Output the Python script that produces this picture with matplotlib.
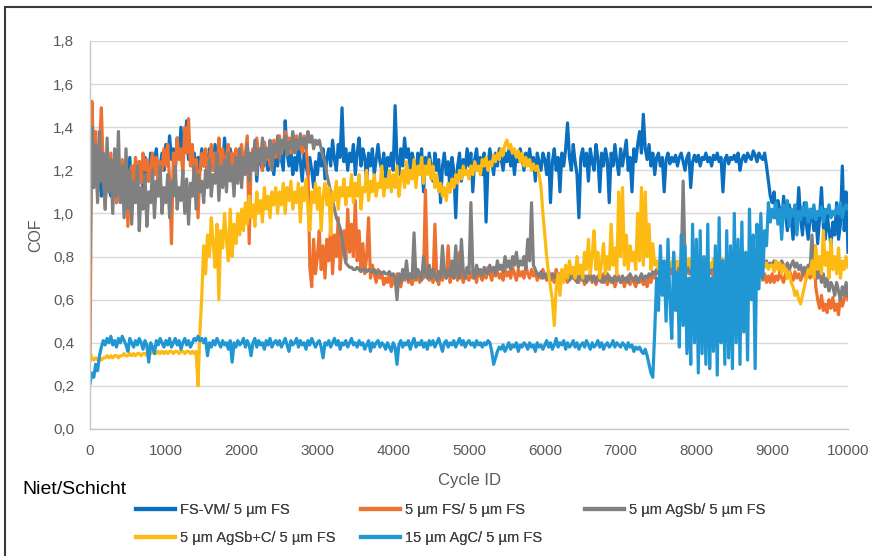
import matplotlib
matplotlib.use("Agg")
import matplotlib.pyplot as plt
from matplotlib.patches import Rectangle

# Friction coefficient per rivet/coating pairing, sampled every 25 cycles
cycles = list(range(0, 10001, 25))

cof_fsvm = [
    1.18, 1.28, 1.15, 1.22, 1.10, 1.25, 1.08, 1.18, 1.05, 1.20, 1.12, 1.08, 1.22, 1.15, 1.05, 1.18, 1.12, 1.24, 1.10, 1.20,
    1.14, 1.26, 1.12, 1.22, 1.16, 1.10, 1.24, 1.18, 1.12, 1.26, 1.20, 1.15, 1.28, 1.18, 1.24, 1.30, 1.16, 1.22, 1.28, 1.20,
    1.32, 1.22, 1.36, 1.25, 1.30, 1.20, 1.35, 1.26, 1.40, 1.28, 1.32, 1.43, 1.25, 1.30, 1.22, 1.28, 1.18, 1.26, 1.20, 1.30,
    1.22, 1.28, 1.15, 1.30, 1.24, 1.20, 1.32, 1.25, 1.18, 1.28, 1.22, 1.35, 1.25, 1.20, 1.30, 1.24, 1.18, 1.28, 1.22, 1.30,
    1.20, 1.28, 1.24, 1.32, 1.18, 1.26, 1.22, 1.30, 1.15, 1.28, 1.24, 1.20, 1.33, 1.26, 1.20, 1.30, 1.24, 1.18, 1.28, 1.22,
    1.30, 1.25, 1.20, 1.43, 1.28, 1.22, 1.30, 1.18, 1.26, 1.20, 1.32, 1.24, 1.15, 1.28, 1.22, 1.18, 1.26, 1.20, 1.12, 1.24,
    1.18, 1.28, 1.22, 1.30, 1.16, 1.26, 1.30, 1.22, 1.34, 1.25, 1.20, 1.32, 1.26, 1.49, 1.24, 1.30, 1.20, 1.28, 1.24, 1.32,
    1.18, 1.28, 1.35, 1.22, 1.30, 1.26, 1.15, 1.28, 1.22, 1.30, 1.18, 1.25, 1.32, 1.24, 1.20, 1.28, 1.16, 1.26, 1.22, 1.28,
    1.20, 1.50, 1.25, 1.18, 1.30, 1.22, 1.35, 1.26, 1.30, 1.20, 1.28, 1.24, 1.16, 1.28, 1.22, 1.30, 1.10, 1.26, 1.20, 1.28,
    1.22, 1.15, 1.28, 1.20, 1.25, 1.05, 1.22, 1.28, 1.18, 1.24, 1.10, 1.26, 1.20, 0.98, 1.22, 1.28, 1.15, 1.25, 1.20, 1.30,
    1.22, 1.28, 1.10, 1.25, 1.30, 1.20, 1.26, 1.18, 1.28, 0.96, 1.22, 1.30, 1.24, 1.18, 1.28, 1.22, 1.30, 1.25, 1.20, 1.28,
    1.24, 1.30, 1.22, 1.27, 1.18, 1.28, 1.24, 1.30, 1.26, 1.20, 1.28, 1.24, 1.30, 1.22, 1.26, 1.15, 1.28, 1.24, 1.20, 1.28,
    1.25, 1.18, 1.28, 1.05, 1.24, 1.30, 1.20, 1.26, 1.10, 1.28, 1.22, 1.30, 1.42, 1.26, 1.20, 1.32, 1.24, 1.18, 0.98, 1.26,
    1.30, 1.22, 1.28, 1.15, 1.30, 1.24, 1.20, 1.32, 1.26, 1.10, 1.28, 1.22, 1.30, 1.25, 1.05, 1.28, 1.22, 1.32, 1.24, 1.18,
    1.30, 1.22, 1.28, 1.34, 1.20, 1.26, 1.10, 1.30, 1.24, 1.32, 1.38, 1.28, 1.46, 1.30, 1.25, 1.32, 1.22, 1.28, 1.18, 1.26,
    1.28, 1.22, 1.26, 1.10, 1.25, 1.28, 1.23, 1.26, 1.24, 1.27, 1.22, 1.26, 1.28, 1.24, 1.20, 1.26, 1.28, 1.12, 1.24, 1.27,
    1.24, 1.27, 1.22, 1.26, 1.25, 1.28, 1.24, 1.26, 1.22, 1.27, 1.25, 1.28, 1.24, 1.26, 1.10, 1.25, 1.27, 1.23, 1.26, 1.25,
    1.27, 1.24, 1.28, 1.20, 1.25, 1.27, 1.24, 1.28, 1.26, 1.25, 1.29, 1.27, 1.24, 1.28, 1.26, 1.25, 1.28, 1.22, 1.15, 1.08,
    1.05, 1.10, 0.98, 1.06, 1.02, 0.95, 1.08, 1.00, 0.92, 1.04, 0.98, 0.88, 1.02, 0.95, 1.12, 0.98, 0.90, 1.05, 0.95, 0.88,
    0.98, 1.02, 0.92, 1.00, 0.86, 0.98, 1.12, 0.94, 0.88, 1.00, 0.92, 0.85, 0.96, 0.90, 1.05, 0.88, 0.95, 1.22, 0.92, 1.10,
    0.82,
]

cof_fs = [
    0.32, 1.52, 1.25, 1.38, 1.15, 1.30, 1.49, 1.20, 1.02, 1.25, 1.15, 1.28, 1.10, 1.22, 1.05, 1.18, 1.12, 1.25, 1.08, 1.20,
    0.94, 1.18, 1.22, 1.12, 1.26, 1.18, 1.24, 1.14, 1.28, 1.20, 1.25, 1.15, 1.22, 1.28, 1.18, 1.26, 1.12, 1.24, 1.20, 1.30,
    1.22, 1.32, 1.15, 0.86, 1.28, 1.20, 1.35, 1.25, 1.30, 1.18, 1.40, 1.28, 1.44, 1.22, 1.32, 1.15, 1.25, 0.98, 1.20, 1.28,
    1.22, 1.30, 1.18, 1.25, 1.32, 1.20, 1.28, 1.15, 1.35, 1.22, 1.30, 1.18, 1.26, 1.32, 1.20, 1.28, 1.15, 1.30, 1.22, 1.26,
    1.32, 1.20, 1.28, 1.36, 0.86, 1.25, 1.30, 1.22, 1.35, 1.26, 1.30, 1.20, 1.33, 1.25, 1.30, 1.22, 1.28, 1.34, 1.26, 1.30,
    1.36, 1.28, 1.32, 1.38, 1.30, 1.35, 1.28, 1.37, 1.32, 1.36, 1.30, 1.34, 1.28, 1.36, 1.30, 1.22, 0.75, 0.66, 0.88, 0.72,
    0.80, 0.92, 0.74, 0.85, 0.70, 0.88, 0.78, 0.95, 0.72, 0.90, 0.80, 0.98, 0.74, 0.86, 0.92, 0.78, 1.02, 0.82, 0.95, 0.80,
    1.06, 0.78, 0.92, 0.74, 0.86, 0.72, 0.80, 0.98, 0.70, 0.76, 0.72, 0.68, 0.74, 0.70, 0.72, 0.67, 0.70, 0.68, 0.72, 0.66,
    0.70, 0.67, 0.72, 0.68, 0.66, 0.71, 0.69, 0.73, 0.68, 0.70, 0.67, 0.72, 0.69, 0.71, 0.68, 0.72, 0.70, 1.11, 0.74, 0.69,
    0.72, 0.68, 0.95, 0.70, 0.67, 0.72, 0.69, 0.74, 0.70, 0.85, 0.68, 0.72, 0.70, 0.73, 0.69, 0.82, 0.71, 0.68, 0.72, 0.70,
    0.69, 0.73, 0.70, 0.72, 0.68, 0.74, 0.71, 0.69, 0.73, 0.70, 0.75, 0.72, 0.69, 0.74, 0.71, 0.73, 0.70, 0.72, 0.69, 0.74,
    0.71, 0.73, 0.70, 0.75, 0.72, 0.69, 0.74, 0.71, 0.73, 0.70, 0.76, 0.72, 0.70, 0.74, 0.71, 0.73, 0.69, 0.72, 0.70, 0.74,
    0.71, 0.69, 0.73, 0.70, 0.72, 0.68, 0.74, 0.70, 0.72, 0.69, 0.73, 0.70, 0.68, 0.72, 0.70, 0.73, 0.69, 0.71, 0.68, 0.72,
    0.70, 0.67, 0.71, 0.69, 0.72, 0.68, 0.70, 0.67, 0.71, 0.69, 0.68, 0.72, 0.70, 0.67, 0.71, 0.68, 0.70, 0.66, 0.69, 0.71,
    0.68, 0.70, 0.66, 0.69, 0.71, 0.67, 0.70, 0.68, 0.66, 0.70, 0.68, 0.71, 0.67, 0.69, 0.66, 0.70, 0.68, 0.72, 0.70, 0.74,
    0.72, 0.75, 0.71, 0.74, 0.70, 0.73, 0.76, 0.72, 0.74, 0.70, 0.75, 0.72, 0.74, 0.71, 0.73, 0.76, 0.72, 0.74, 0.71, 0.75,
    0.73, 0.70, 0.74, 0.72, 0.76, 0.71, 0.74, 0.72, 0.75, 0.70, 0.73, 0.76, 0.72, 0.74, 0.71, 0.75, 0.73, 0.70, 0.74, 0.72,
    0.75, 0.71, 0.74, 0.72, 0.76, 0.73, 0.70, 0.74, 0.72, 0.75, 0.71, 0.73, 0.70, 0.74, 0.72, 0.69, 0.72, 0.68, 0.71, 0.68,
    0.72, 0.68, 0.71, 0.69, 0.73, 0.70, 0.68, 0.72, 0.70, 0.74, 0.71, 0.69, 0.73, 0.70, 0.72, 0.69, 0.71, 0.73, 0.70, 0.72,
    0.70, 0.74, 0.85, 0.66, 0.60, 0.56, 0.62, 0.55, 0.58, 0.54, 0.60, 0.56, 0.61, 0.55, 0.58, 0.53, 0.62, 0.57, 0.60, 0.64,
    0.60,
]

cof_agsb = [
    0.77, 1.40, 1.12, 1.32, 1.05, 1.38, 1.15, 1.28, 1.02, 1.35, 1.10, 1.25, 1.00, 1.30, 1.08, 1.38, 1.05, 1.22, 0.98, 1.30,
    1.02, 1.20, 0.95, 1.15, 1.05, 1.22, 0.92, 1.12, 1.02, 1.18, 0.94, 1.10, 1.05, 1.20, 0.98, 1.15, 1.08, 1.22, 1.00, 1.12,
    1.05, 1.18, 0.98, 1.15, 1.08, 1.22, 1.02, 1.12, 1.06, 1.20, 1.00, 1.16, 0.95, 1.14, 1.08, 1.22, 1.02, 1.18, 1.10, 1.15,
    1.05, 1.20, 1.12, 1.25, 1.08, 1.18, 1.14, 1.28, 1.06, 1.22, 1.12, 1.25, 1.10, 1.28, 1.15, 1.22, 1.08, 1.26, 1.14, 1.30,
    1.12, 1.26, 1.18, 1.32, 1.15, 1.28, 1.20, 1.34, 1.18, 1.30, 1.24, 1.35, 1.22, 1.30, 1.26, 1.34, 1.20, 1.32, 1.28, 1.36,
    1.25, 1.34, 1.30, 1.36, 1.27, 1.33, 1.30, 1.38, 1.28, 1.34, 1.30, 1.37, 1.32, 1.35, 1.30, 1.38, 1.33, 1.36, 1.30, 1.34,
    1.32, 1.34, 1.30, 1.26, 1.24, 1.18, 1.14, 1.10, 1.06, 1.02, 0.98, 0.96, 0.93, 0.88, 0.82, 0.77, 0.76, 0.75, 0.75, 0.74,
    0.74, 0.75, 0.74, 0.73, 0.74, 0.74, 0.73, 0.74, 0.73, 0.73, 0.74, 0.72, 0.73, 0.73, 0.72, 0.73, 0.72, 0.72, 0.73, 0.71,
    0.72, 0.70, 0.60, 0.72, 0.68, 0.74, 0.70, 0.78, 0.69, 0.72, 0.70, 0.91, 0.70, 0.74, 0.72, 0.69, 0.80, 0.72, 0.70, 0.76,
    0.70, 0.74, 0.71, 0.69, 0.73, 0.70, 0.85, 0.72, 0.70, 0.74, 0.71, 0.78, 0.70, 0.85, 0.72, 0.70, 0.88, 0.73, 0.70, 0.75,
    0.72, 1.05, 0.74, 0.70, 0.76, 0.72, 0.74, 0.71, 0.75, 0.73, 0.72, 0.76, 0.73, 0.75, 0.72, 0.78, 0.74, 0.76, 0.73, 0.80,
    0.75, 0.78, 0.74, 0.80, 0.76, 0.82, 0.75, 0.78, 0.76, 0.80, 0.74, 0.88, 0.78, 1.05, 0.76, 0.74, 0.72, 0.71, 0.73, 0.70,
    0.72, 0.70, 0.73, 0.69, 0.72, 0.71, 0.70, 0.72, 0.69, 0.71, 0.73, 0.70, 0.72, 0.69, 0.71, 0.70, 0.72, 0.68, 0.71, 0.70,
    0.69, 0.71, 0.68, 0.70, 0.72, 0.69, 0.71, 0.68, 0.70, 0.69, 0.71, 0.68, 0.70, 0.72, 0.69, 0.70, 0.68, 0.71, 0.69, 0.70,
    0.68, 0.71, 0.69, 0.70, 0.68, 0.72, 0.70, 0.69, 0.71, 0.68, 0.70, 0.72, 0.69, 0.71, 0.70, 0.72, 0.71, 0.73, 0.72, 0.74,
    0.72, 0.74, 0.71, 0.73, 0.75, 0.72, 0.74, 0.76, 0.73, 0.75, 0.72, 0.74, 0.76, 1.15, 0.78, 0.73, 0.75, 0.72, 0.74, 0.76,
    0.73, 0.75, 0.72, 0.76, 0.74, 0.73, 0.75, 0.72, 0.76, 0.74, 0.73, 0.75, 0.77, 0.74, 0.76, 0.73, 0.75, 0.74, 0.76, 0.73,
    0.75, 0.77, 0.74, 0.76, 0.73, 0.75, 0.78, 0.74, 0.76, 0.75, 0.77, 0.74, 0.76, 0.78, 0.75, 0.77, 0.76, 0.78, 0.75, 0.77,
    0.76, 0.78, 0.75, 0.77, 0.74, 0.78, 0.76, 0.75, 0.77, 0.74, 0.76, 0.78, 0.75, 0.77, 0.74, 0.76, 0.72, 0.75, 0.73, 0.76,
    0.74, 0.90, 0.72, 0.76, 0.70, 0.74, 0.68, 0.72, 0.66, 0.70, 0.64, 0.68, 0.66, 0.62, 0.68, 0.64, 0.60, 0.66, 0.62, 0.68,
    0.62,
]

cof_agsbc = [
    0.36, 0.33, 0.32, 0.33, 0.32, 0.33, 0.32, 0.33, 0.33, 0.34, 0.33, 0.34, 0.33, 0.34, 0.34, 0.33, 0.34, 0.34, 0.35, 0.34,
    0.34, 0.35, 0.34, 0.35, 0.34, 0.35, 0.35, 0.34, 0.35, 0.35, 0.34, 0.35, 0.35, 0.36, 0.35, 0.35, 0.36, 0.35, 0.36, 0.35,
    0.36, 0.35, 0.36, 0.36, 0.35, 0.36, 0.36, 0.35, 0.36, 0.36, 0.35, 0.36, 0.36, 0.35, 0.36, 0.35, 0.36, 0.20, 0.45, 0.62,
    0.85, 0.72, 0.90, 0.80, 0.98, 0.86, 0.75, 0.95, 0.60, 0.92, 0.84, 1.00, 0.88, 0.78, 1.02, 0.80, 0.95, 0.86, 1.00, 0.90,
    1.02, 0.92, 1.05, 0.95, 1.08, 0.98, 1.04, 0.94, 1.10, 1.00, 1.06, 0.96, 1.12, 1.02, 1.08, 0.98, 1.10, 1.04, 1.12, 1.00,
    1.10, 1.04, 1.14, 1.00, 1.12, 1.06, 1.15, 1.02, 1.10, 1.05, 1.14, 0.96, 1.12, 1.06, 1.16, 1.02, 0.92, 1.10, 1.05, 1.14,
    1.02, 1.12, 0.92, 1.08, 1.14, 1.04, 1.12, 0.90, 1.10, 1.06, 1.15, 1.02, 1.12, 1.08, 1.16, 1.04, 1.12, 1.08, 1.18, 1.05,
    1.14, 1.08, 1.18, 1.02, 1.12, 1.10, 1.20, 1.06, 1.15, 1.10, 1.18, 1.08, 1.14, 1.12, 1.22, 1.08, 1.16, 1.12, 1.20, 1.10,
    1.18, 1.12, 1.22, 1.08, 1.16, 1.20, 1.12, 1.24, 1.14, 1.20, 1.16, 1.25, 1.12, 1.22, 1.18, 1.26, 1.14, 1.22, 1.18, 1.25,
    1.16, 1.22, 1.12, 1.18, 1.10, 1.14, 1.08, 1.12, 1.06, 1.14, 1.10, 1.16, 1.12, 1.18, 1.14, 1.20, 1.16, 1.22, 1.18, 1.20,
    1.16, 1.22, 1.18, 1.24, 1.20, 1.22, 1.18, 1.25, 1.22, 1.26, 1.20, 1.24, 1.22, 1.27, 1.24, 1.28, 1.25, 1.30, 1.27, 1.32,
    1.34, 1.30, 1.32, 1.28, 1.30, 1.26, 1.29, 1.24, 1.28, 1.22, 1.26, 1.22, 1.25, 1.20, 1.23, 1.20, 1.22, 1.18, 1.12, 1.00,
    0.90, 0.80, 0.72, 0.66, 0.60, 0.48, 0.65, 0.72, 0.62, 0.74, 0.68, 0.76, 0.70, 0.78, 0.72, 0.75, 0.70, 0.80, 0.72, 0.76,
    0.70, 0.82, 0.74, 0.88, 0.72, 0.80, 0.92, 0.74, 0.82, 0.70, 0.78, 0.86, 0.72, 0.80, 0.74, 0.95, 0.76, 0.84, 0.72, 1.10,
    0.80, 1.12, 0.76, 0.90, 0.74, 0.85, 0.78, 0.82, 0.74, 1.00, 0.78, 1.12, 0.76, 1.10, 0.80, 0.95, 0.74, 0.86, 0.76, 0.78,
    0.74, 0.78, 0.76, 0.77, 0.74, 0.78, 0.75, 0.77, 0.79, 0.74, 0.78, 0.76, 0.77, 0.74, 0.78, 0.76, 0.79, 0.75, 0.77, 0.74,
    0.78, 0.75, 0.77, 0.79, 0.74, 0.78, 0.76, 0.77, 0.75, 0.79, 0.76, 0.78, 0.74, 0.77, 0.79, 0.75, 0.78, 0.76, 0.77, 0.75,
    0.78, 0.76, 0.79, 0.75, 0.77, 0.78, 0.74, 0.77, 0.79, 0.76, 0.78, 0.75, 0.77, 0.79, 0.76, 0.78, 0.75, 0.77, 0.74, 0.76,
    0.76, 0.73, 0.78, 0.74, 0.77, 0.72, 0.76, 0.74, 0.70, 0.73, 0.68, 0.66, 0.62, 0.64, 0.60, 0.58, 0.62, 0.66, 0.70, 0.74,
    0.72, 0.78, 0.70, 0.85, 0.74, 0.80, 0.72, 0.92, 0.76, 0.82, 0.70, 0.88, 0.74, 0.80, 0.72, 0.84, 0.70, 0.78, 0.74, 0.80,
    0.75,
]

cof_agc = [
    0.21, 0.26, 0.24, 0.30, 0.27, 0.34, 0.38, 0.41, 0.39, 0.42, 0.40, 0.43, 0.39, 0.41, 0.38, 0.42, 0.40, 0.43, 0.41, 0.39,
    0.36, 0.42, 0.40, 0.38, 0.41, 0.39, 0.42, 0.40, 0.37, 0.41, 0.39, 0.31, 0.40, 0.38, 0.35, 0.41, 0.39, 0.42, 0.40, 0.38,
    0.41, 0.39, 0.42, 0.38, 0.40, 0.42, 0.39, 0.41, 0.37, 0.40, 0.42, 0.39, 0.41, 0.38, 0.40, 0.42, 0.41, 0.43, 0.41, 0.42,
    0.40, 0.42, 0.34, 0.40, 0.38, 0.41, 0.39, 0.42, 0.40, 0.38, 0.41, 0.39, 0.40, 0.37, 0.41, 0.31, 0.40, 0.38, 0.41, 0.39,
    0.40, 0.42, 0.38, 0.41, 0.39, 0.34, 0.40, 0.42, 0.38, 0.41, 0.39, 0.40, 0.37, 0.41, 0.39, 0.42, 0.38, 0.40, 0.41, 0.39,
    0.41, 0.38, 0.40, 0.42, 0.39, 0.36, 0.41, 0.39, 0.40, 0.42, 0.38, 0.41, 0.39, 0.40, 0.37, 0.41, 0.39, 0.42, 0.40, 0.38,
    0.40, 0.41, 0.38, 0.33, 0.40, 0.39, 0.41, 0.38, 0.40, 0.42, 0.39, 0.41, 0.37, 0.40, 0.39, 0.41, 0.38, 0.40, 0.42, 0.39,
    0.40, 0.38, 0.41, 0.39, 0.40, 0.37, 0.39, 0.41, 0.36, 0.40, 0.38, 0.40, 0.41, 0.38, 0.40, 0.39, 0.37, 0.40, 0.38, 0.36,
    0.40, 0.38, 0.30, 0.39, 0.41, 0.38, 0.40, 0.39, 0.41, 0.37, 0.40, 0.42, 0.38, 0.40, 0.39, 0.41, 0.38, 0.40, 0.37, 0.41,
    0.39, 0.41, 0.38, 0.40, 0.42, 0.39, 0.36, 0.40, 0.41, 0.38, 0.40, 0.39, 0.41, 0.38, 0.40, 0.42, 0.39, 0.41, 0.38, 0.40,
    0.41, 0.39, 0.40, 0.38, 0.41, 0.39, 0.40, 0.38, 0.40, 0.39, 0.41, 0.40, 0.36, 0.30, 0.33, 0.36, 0.38, 0.37, 0.39, 0.36,
    0.38, 0.40, 0.37, 0.39, 0.38, 0.40, 0.36, 0.39, 0.38, 0.40, 0.39, 0.37, 0.40, 0.38, 0.39, 0.36, 0.40, 0.38, 0.39, 0.37,
    0.39, 0.41, 0.38, 0.40, 0.37, 0.39, 0.42, 0.38, 0.40, 0.39, 0.41, 0.37, 0.40, 0.38, 0.39, 0.41, 0.38, 0.40, 0.37, 0.39,
    0.40, 0.38, 0.41, 0.39, 0.37, 0.40, 0.38, 0.39, 0.41, 0.38, 0.40, 0.37, 0.39, 0.40, 0.38, 0.39, 0.41, 0.38, 0.40, 0.39,
    0.38, 0.40, 0.39, 0.37, 0.40, 0.38, 0.39, 0.36, 0.38, 0.37, 0.38, 0.36, 0.35, 0.37, 0.34, 0.30, 0.26, 0.24, 0.45, 0.70,
    0.55, 0.85, 0.62, 0.78, 0.50, 0.88, 0.60, 0.42, 0.82, 0.55, 0.72, 0.38, 0.90, 0.48, 0.85, 0.35, 0.70, 0.30, 0.95, 0.40,
    0.88, 0.26, 0.92, 0.35, 0.80, 0.30, 0.95, 0.28, 0.70, 0.36, 0.85, 0.25, 0.98, 0.40, 0.78, 0.30, 0.92, 0.33, 0.85, 0.28,
    1.00, 0.40, 0.88, 0.30, 0.96, 0.45, 0.82, 0.32, 1.02, 0.60, 0.90, 0.28, 0.95, 0.65, 1.00, 0.70, 0.92, 0.85, 1.05, 0.96,
    1.02, 0.98, 1.05, 0.95, 1.02, 0.88, 1.04, 0.98, 1.06, 0.94, 1.02, 0.99, 1.04, 0.90, 1.01, 0.97, 1.03, 0.99, 1.05, 0.96,
    1.02, 0.98, 1.04, 0.97, 1.01, 0.99, 1.03, 0.96, 1.02, 1.00, 1.04, 0.98, 1.01, 0.99, 1.03, 1.00, 1.05, 0.98, 1.02, 1.04,
    1.02,
]

series_labels = [
    "FS-VM/ 5 µm FS",
    "5 µm FS/ 5 µm FS",
    "5 µm AgSb/ 5 µm FS",
    "5 µm AgSb+C/ 5 µm FS",
    "15 µm AgC/ 5 µm FS",
]
series_colors = ["#0A6FBF", "#EF7130", "#808080", "#FDBA12", "#2097D3"]
y_ticks = [0.0, 0.2, 0.4, 0.6, 0.8, 1.0, 1.2, 1.4, 1.6, 1.8]
x_ticks = list(range(0, 10001, 1000))

plt.rcParams["font.family"] = ["Liberation Sans", "DejaVu Sans"]

fig = plt.figure(figsize=(8.72, 5.56), dpi=100)
ax = fig.add_axes([90 / 872, 1 - 429 / 556, (848 - 90) / 872, (429 - 41) / 556])

all_series = [cof_fsvm, cof_fs, cof_agsb, cof_agsbc, cof_agc]
handles = []
for vals, lab, col in zip(all_series, series_labels, series_colors):
    h, = ax.plot(cycles, vals, color=col, lw=2.3, label=lab)
    handles.append(h)

ax.set_xlim(0, 10000)
ax.set_ylim(0, 1.8)
ax.set_yticks(y_ticks)
ax.set_yticklabels([f"{v:.1f}".replace(".", ",") for v in y_ticks])
ax.set_xticks(x_ticks)
ax.set_xticklabels([str(v) for v in x_ticks])
ax.tick_params(axis="both", length=0, labelsize=11, labelcolor="#595959")
ax.tick_params(axis="y", pad=11.5)
ax.tick_params(axis="x", pad=11)
ax.grid(axis="y", color="#D9D9D9", lw=1.0)
ax.set_axisbelow(True)
for s in ["top", "right"]:
    ax.spines[s].set_visible(False)
for s in ["left", "bottom"]:
    ax.spines[s].set_color("#C8C8C8")
    ax.spines[s].set_linewidth(1.0)

fig.text(469 / 872, 1 - 480 / 556, "Cycle ID", ha="center", va="center",
         fontsize=12, color="#595959")
fig.text(36 / 872, 1 - 235 / 556, "COF", ha="center", va="center", rotation=90,
         fontsize=11.5, color="#595959")
fig.text(22 / 872, 1 - 489 / 556, "Niet/Schicht", ha="left", va="center",
         fontsize=14, color="#000000")

# Legend entries placed on a fixed grid: (line start x, row y) in pixels
entry_pos = [(136, 510), (361, 510), (585, 510), (136, 538), (361, 538)]
for h, lab, (px, py) in zip(handles, series_labels, entry_pos):
    leg = fig.legend([h], [lab], loc="center left",
                     bbox_to_anchor=(px / 872, 1 - py / 556),
                     frameon=False, handlelength=2.7, handletextpad=0.3,
                     borderaxespad=0, borderpad=0, fontsize=10.5)
    for t in leg.get_texts():
        t.set_color("#404040")
    for ln in leg.get_lines():
        ln.set_linewidth(3.0)
    fig.add_artist(leg)

# Outer chart frame
fig.add_artist(Rectangle((5 / 872, -0.05), 1.0, 1 - 6.5 / 556 + 0.05,
                         transform=fig.transFigure, fill=False,
                         edgecolor="#3A3A3A", lw=1.5))

fig.savefig("out.png", dpi=100)
